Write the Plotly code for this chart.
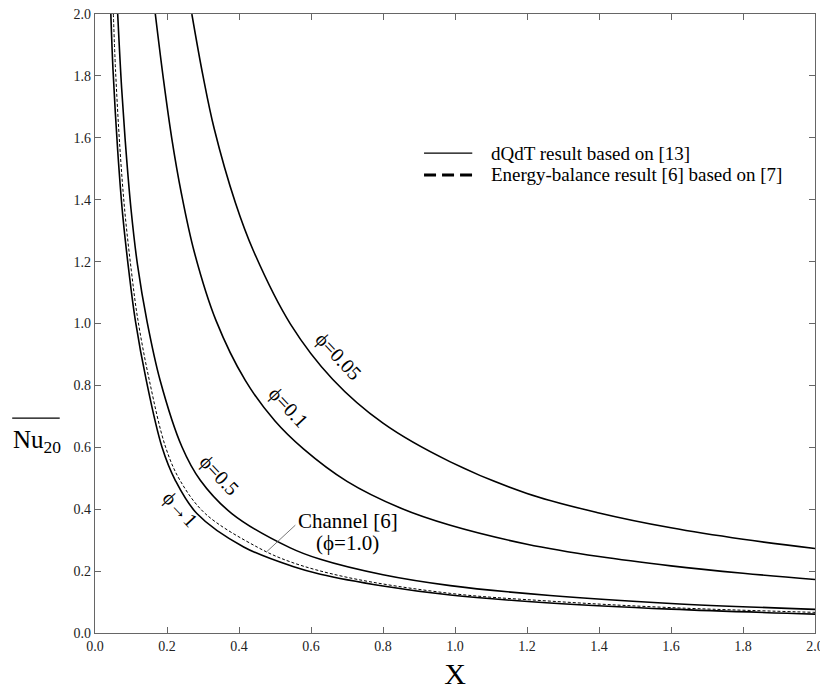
import plotly.graph_objects as go

# --- data ---
x_p005 = [0.269, 0.30, 0.331, 0.39, 0.44, 0.5425, 0.66, 0.80, 0.987, 1.2, 1.4, 1.6, 1.8, 2.0]
y_p005 = [2.0, 1.80, 1.63, 1.39, 1.235, 0.999, 0.82, 0.678, 0.553, 0.451, 0.388, 0.340, 0.303, 0.273]

x_p01 = [0.1675, 0.19, 0.213, 0.24, 0.276, 0.336, 0.4175, 0.5, 0.579, 0.70, 0.85, 0.987, 1.2, 1.4, 1.6, 1.8, 2.0]
y_p01 = [2.0, 1.79, 1.60, 1.42, 1.23, 1.01, 0.816, 0.685, 0.595, 0.49, 0.403, 0.348, 0.287, 0.247, 0.217, 0.193, 0.173]

x_p05 = [0.063, 0.074, 0.086, 0.100, 0.118, 0.144, 0.181, 0.2417, 0.2925, 0.38, 0.5425, 0.626, 0.8, 0.987, 1.264, 1.6, 2.0]
y_p05 = [2.0, 1.76, 1.56, 1.37, 1.19, 1.01, 0.816, 0.601, 0.4935, 0.386, 0.275, 0.238, 0.188, 0.153, 0.121, 0.0955, 0.0764]

x_p1 = [0.044, 0.050, 0.063, 0.077, 0.095, 0.112, 0.1425, 0.186, 0.223, 0.283, 0.413, 0.552, 0.626, 0.8, 0.987, 1.264, 1.6, 2.0]
y_p1 = [2.0, 1.82, 1.56, 1.35, 1.16, 1.01, 0.816, 0.601, 0.4935, 0.386, 0.278, 0.214, 0.19, 0.152, 0.1226, 0.097, 0.077, 0.061]

x_ch = [0.051, 0.057, 0.069, 0.083, 0.101, 0.118, 0.151, 0.196, 0.236, 0.306, 0.45, 0.5425, 0.7, 0.987, 1.264, 1.6, 2.0]
y_ch = [2.0, 1.82, 1.57, 1.36, 1.17, 1.02, 0.816, 0.601, 0.4935, 0.386, 0.278, 0.230, 0.18, 0.128, 0.103, 0.082, 0.0667]

x_ticks = [0.0, 0.2, 0.4, 0.6, 0.8, 1.0, 1.2, 1.4, 1.6, 1.8, 2.0]
y_ticks = [0.0, 0.2, 0.4, 0.6, 0.8, 1.0, 1.2, 1.4, 1.6, 1.8, 2.0]

legend_solid = "dQdT result based on [13]"
legend_dash = "Energy-balance result [6] based on [7]"

FONT = "Liberation Serif"

fig = go.Figure()
for xs, ys in [(x_p005, y_p005), (x_p01, y_p01), (x_p05, y_p05), (x_p1, y_p1)]:
    fig.add_trace(go.Scatter(x=xs, y=ys, mode="lines", showlegend=False, hoverinfo="skip",
                             line=dict(color="black", width=1.6, shape="spline", smoothing=1.0)))
fig.add_trace(go.Scatter(x=x_ch, y=y_ch, mode="lines", showlegend=False, hoverinfo="skip",
                         line=dict(color="black", width=1, dash="3px,2px", shape="spline", smoothing=1.0)))

labels = [
    ("ϕ=0.05", 0.676, 0.894),
    ("ϕ=0.1", 0.537, 0.729),
    ("ϕ=0.5", 0.3456, 0.51),
    ("ϕ→1", 0.237, 0.40),
]
for t, x, y in labels:
    fig.add_annotation(x=x, y=y, xref="x", yref="y", text=t, showarrow=False,
                       textangle=47, font=dict(family=FONT, size=20, color="black"))

fig.add_annotation(x=0.702, y=0.362, xref="x", yref="y", text="Channel [6]", showarrow=False,
                   font=dict(family=FONT, size=21, color="black"))
fig.add_annotation(x=0.702, y=0.29, xref="x", yref="y", text="(ϕ=1.0)", showarrow=False,
                   font=dict(family=FONT, size=21, color="black"))
fig.add_shape(type="line", xref="x", yref="y", x0=0.4766, y0=0.2623, x1=0.5565, y1=0.3484,
              line=dict(color="#555", width=0.8))

# manual legend
fig.add_shape(type="line", xref="paper", yref="paper", x0=0.457, x1=0.524, y0=0.7754, y1=0.7754,
              line=dict(color="black", width=1.3))
fig.add_shape(type="line", xref="paper", yref="paper", x0=0.457, x1=0.524, y0=0.740, y1=0.740,
              line=dict(color="black", width=3, dash="12px,6px"))
fig.add_annotation(xref="paper", yref="paper", x=0.547, y=0.7754, xanchor="left", yanchor="middle",
                   text=legend_solid, showarrow=False, font=dict(family=FONT, size=19, color="black"))
fig.add_annotation(xref="paper", yref="paper", x=0.547, y=0.740, xanchor="left", yanchor="middle",
                   text=legend_dash, showarrow=False, font=dict(family=FONT, size=19, color="black"))

# y-axis title (Nu with overline and subscript)
fig.add_annotation(xref="paper", yref="paper", x=-0.08, y=0.31, xanchor="center", yanchor="middle",
                   text="Nu<sub>20</sub>", showarrow=False,
                   font=dict(family=FONT, size=25, color="black"))
fig.add_shape(type="line", xref="paper", yref="paper", x0=-0.115, x1=-0.049,
              y0=0.347, y1=0.347, line=dict(color="black", width=1.3))

# page body has an 8px margin: figure fills the rest of the 828x691 window
fig.update_layout(
    width=820, height=683, autosize=False,
    margin=dict(l=87, r=13, t=6, b=58, autoexpand=False),
    paper_bgcolor="white", plot_bgcolor="white",
    showlegend=False,
    font=dict(family=FONT, size=14, color="#222"),
    xaxis=dict(range=[0, 2], tickvals=x_ticks, ticktext=[f"{v:.1f}" for v in x_ticks],
               showgrid=False, zeroline=False, showline=True, linecolor="#666", linewidth=1.2,
               mirror="ticks", ticks="inside", ticklen=6, tickcolor="#666", automargin=False,
               ticklabeloverflow="allow",
               title=dict(text="X", font=dict(family=FONT, size=30, color="black"), standoff=10)),
    yaxis=dict(range=[0, 2], tickvals=y_ticks, ticktext=[f"{v:.1f}" for v in y_ticks],
               showgrid=False, zeroline=False, showline=True, linecolor="#666", linewidth=1.2,
               mirror="ticks", ticks="inside", ticklen=6, tickcolor="#666", automargin=False,
               ticklabeloverflow="allow"),
)

fig.write_html("out.html")
